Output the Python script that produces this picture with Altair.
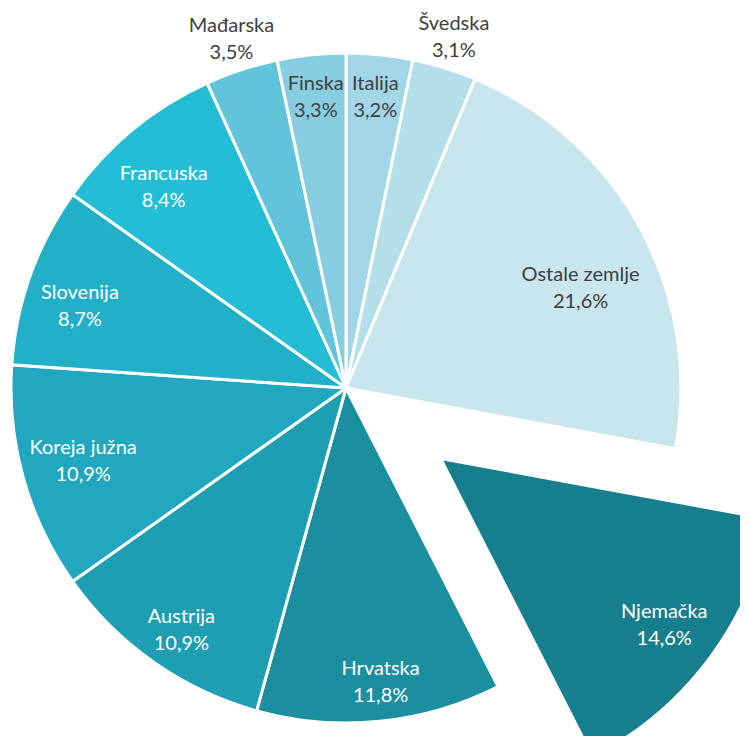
import math
import altair as alt
import pandas as pd

# ---- data (clockwise from 12 o'clock) ----
countries = ["Italija", "Švedska", "Ostale zemlje", "Njemačka", "Hrvatska", "Austrija",
             "Koreja južna", "Slovenija", "Francuska", "Mađarska", "Finska"]
shares = [3.2, 3.1, 21.6, 14.6, 11.8, 10.9, 10.9, 8.7, 8.4, 3.5, 3.3]
palette = ["#a0d6e6", "#b4dfea", "#c9e5ee", "#167e8c", "#1b8fa0", "#1e9eb3",
           "#21a7bf", "#22b0c9", "#24bdd6", "#62c4da", "#86cde0"]

exploded = "Njemačka"

df = pd.DataFrame({
    "name": countries,
    "share": shares,
    "pct": [f"{v:.1f}".replace(".", ",") + "%" for v in shares],
    "color": palette,
    "idx": list(range(len(countries))),
})

# geometry / style
W, H = 732, 728
CX, CY = 338, 380
R = 335
EXPLODE = 118
FONT = "Lato"
FS = 20
LH = 27
DARK = "#404040"

# label placement groups: (names, radius, dx, dy, colour)
label_groups = [
    (["Slovenija", "Francuska"], 275, -7, 11, "white"),
    (["Koreja južna"], 273, 0, 0, "white"),
    (["Hrvatska", "Austrija"], 295, 5, 1, "white"),
    (["Finska", "Italija"], 292, 0, 0, DARK),
    (["Mađarska", "Švedska"], 367, 0, 0, DARK),
    (["Ostale zemlje"], 252, 13, 21, DARK),
]

# offset of exploded slice along its mid-angle
i_ex = countries.index(exploded)
mid_ex = (sum(shares[:i_ex]) + shares[i_ex] / 2) / 100 * 2 * math.pi
EX_X = CX + EXPLODE * math.sin(mid_ex)
EX_Y = CY - EXPLODE * math.cos(mid_ex)

theta_scale = alt.Scale(domain=[0, 100], range=[0, 2 * math.pi])

base = (
    alt.Chart(df)
    .transform_window(cum="sum(share)", sort=[alt.SortField("idx")], frame=[None, 0])
    .transform_calculate(
        start="datum.cum - datum.share",
        mid="datum.cum - datum.share / 2",
        txt="datum.name + '\\n' + datum.pct",
    )
)

def arcs(filt, cx, cy):
    return base.transform_filter(filt).mark_arc(
        outerRadius=R, stroke="white", strokeWidth=3
    ).encode(
        theta=alt.Theta("start:Q", scale=theta_scale, stack=None),
        theta2="cum:Q",
        color=alt.Color("color:N", scale=None),
        x=alt.value(cx),
        y=alt.value(cy),
    )

def texts(filt, cx, cy, radius, color, dx=0, dy=0):
    # dy - LH/2 centres the two-line block on its anchor
    return base.transform_filter(filt).mark_text(
        radius=radius, font=FONT, fontSize=FS, color=color, lineBreak="\n",
        lineHeight=LH, align="center", baseline="middle", dx=dx, dy=dy - LH / 2,
    ).encode(
        theta=alt.Theta("mid:Q", scale=theta_scale, stack=None),
        text="txt:N",
        x=alt.value(cx),
        y=alt.value(cy),
    )

not_ex = alt.FieldOneOfPredicate(field="name", oneOf=[c for c in countries if c != exploded])
is_ex = alt.FieldEqualPredicate(field="name", equal=exploded)

layers = [arcs(not_ex, CX, CY), arcs(is_ex, EX_X, EX_Y)]
for names, rad, dx, dy, col in label_groups:
    layers.append(texts(alt.FieldOneOfPredicate(field="name", oneOf=names), CX, CY, rad, col, dx, dy))
layers.append(texts(is_ex, EX_X, EX_Y, 279, "white"))

chart = (
    alt.layer(*layers)
    .properties(width=W, height=H, autosize="none", padding=0)
    .configure_view(strokeWidth=0)
)

chart.save("out.html", embed_options={"renderer": "svg", "actions": False})
